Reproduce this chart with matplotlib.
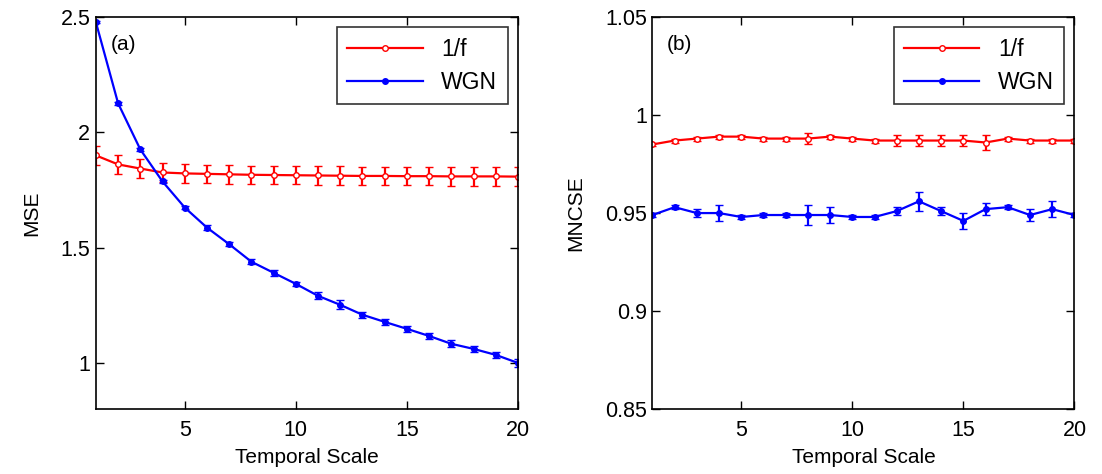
import matplotlib
matplotlib.use("Agg")
import matplotlib.pyplot as plt
from matplotlib.lines import Line2D

plt.rcParams['font.family'] = ['Liberation Sans', 'DejaVu Sans']

scales = list(range(1, 21))

mse_pink = [1.900, 1.861, 1.843, 1.826, 1.822, 1.820, 1.818, 1.816, 1.815, 1.814,
            1.813, 1.812, 1.811, 1.811, 1.810, 1.810, 1.809, 1.809, 1.809, 1.808]
mse_pink_err = [0.04, 0.04, 0.04, 0.04, 0.04, 0.04, 0.04, 0.04, 0.04, 0.04,
                0.04, 0.04, 0.04, 0.04, 0.04, 0.04, 0.04, 0.04, 0.04, 0.04]
mse_wgn = [2.478, 2.126, 1.926, 1.787, 1.674, 1.587, 1.515, 1.439, 1.391, 1.343,
           1.291, 1.252, 1.209, 1.178, 1.148, 1.117, 1.083, 1.061, 1.035, 1.000]
mse_wgn_err = [0.005, 0.006, 0.008, 0.008, 0.008, 0.010, 0.010, 0.012, 0.012, 0.010,
               0.015, 0.020, 0.012, 0.012, 0.012, 0.015, 0.015, 0.012, 0.012, 0.018]

mncse_pink = [0.985, 0.987, 0.988, 0.989, 0.989, 0.988, 0.988, 0.988, 0.989, 0.988,
              0.987, 0.987, 0.987, 0.987, 0.987, 0.986, 0.988, 0.987, 0.987, 0.987]
mncse_pink_err = [0.001, 0.001, 0.001, 0.001, 0.001, 0.001, 0.001, 0.003, 0.001, 0.001,
                  0.001, 0.003, 0.003, 0.003, 0.003, 0.004, 0.001, 0.001, 0.001, 0.001]
mncse_wgn = [0.949, 0.953, 0.950, 0.950, 0.948, 0.949, 0.949, 0.949, 0.949, 0.948,
             0.948, 0.951, 0.956, 0.951, 0.946, 0.952, 0.953, 0.949, 0.952, 0.949]
mncse_wgn_err = [0.001, 0.001, 0.002, 0.004, 0.001, 0.001, 0.001, 0.005, 0.004, 0.001,
                 0.001, 0.002, 0.005, 0.002, 0.004, 0.003, 0.001, 0.003, 0.004, 0.001]

fig = plt.figure(figsize=(11.02, 4.74), dpi=100)
ax1 = fig.add_axes([0.087, 0.137, 0.383, 0.827])
ax2 = fig.add_axes([0.592, 0.137, 0.383, 0.827])

def panel(ax, pink, pink_err, wgn, wgn_err, ylabel, ylim, yticks, yticklabels, tag, ylpad):
    ax.errorbar(scales, pink, yerr=pink_err, color='red', lw=1.6, marker='o',
                markersize=4, markerfacecolor='white', markeredgecolor='red',
                capsize=3, elinewidth=1.6)
    ax.errorbar(scales, wgn, yerr=wgn_err, color='blue', lw=1.6, marker='o',
                markersize=4, markerfacecolor='blue', markeredgecolor='blue',
                capsize=3, elinewidth=1.6)
    ax.set_xlim(1, 20)
    ax.set_ylim(*ylim)
    ax.set_xticks([5, 10, 15, 20])
    ax.set_yticks(yticks)
    ax.set_yticklabels(yticklabels)
    ax.tick_params(direction='in', top=True, right=True, labelsize=15.5, length=6, width=1)
    ax.tick_params(axis='x', pad=8)
    ax.tick_params(axis='y', pad=4)
    ax.set_xlabel('Temporal Scale', fontsize=15, labelpad=5)
    ax.set_ylabel(ylabel, fontsize=15, labelpad=ylpad)
    for s in ax.spines.values():
        s.set_linewidth(1.2)
    ax.text(0.035, 0.955, tag, transform=ax.transAxes, fontsize=15, va='top', ha='left')
    handles = [
        Line2D([], [], color='red', lw=1.6, marker='o', markersize=4,
               markerfacecolor='white', markeredgecolor='red'),
        Line2D([], [], color='blue', lw=1.6, marker='o', markersize=4,
               markerfacecolor='blue', markeredgecolor='blue'),
    ]
    leg = ax.legend(handles, ['1/f', 'WGN'], loc='upper right', fontsize=16.5,
                    frameon=True, fancybox=False, edgecolor='black',
                    handlelength=3.3, borderaxespad=0.45, labelspacing=0.45,
                    borderpad=0.45)
    leg.get_frame().set_linewidth(1.2)

panel(ax1, mse_pink, mse_pink_err, mse_wgn, mse_wgn_err, 'MSE', (0.8, 2.5),
      [1, 1.5, 2, 2.5], ['1', '1.5', '2', '2.5'], '(a)', 14)
panel(ax2, mncse_pink, mncse_pink_err, mncse_wgn, mncse_wgn_err, 'MNCSE', (0.85, 1.05),
      [0.85, 0.9, 0.95, 1.0, 1.05], ['0.85', '0.9', '0.95', '1', '1.05'], '(b)', 14)

fig.savefig('out.png', dpi=100)
